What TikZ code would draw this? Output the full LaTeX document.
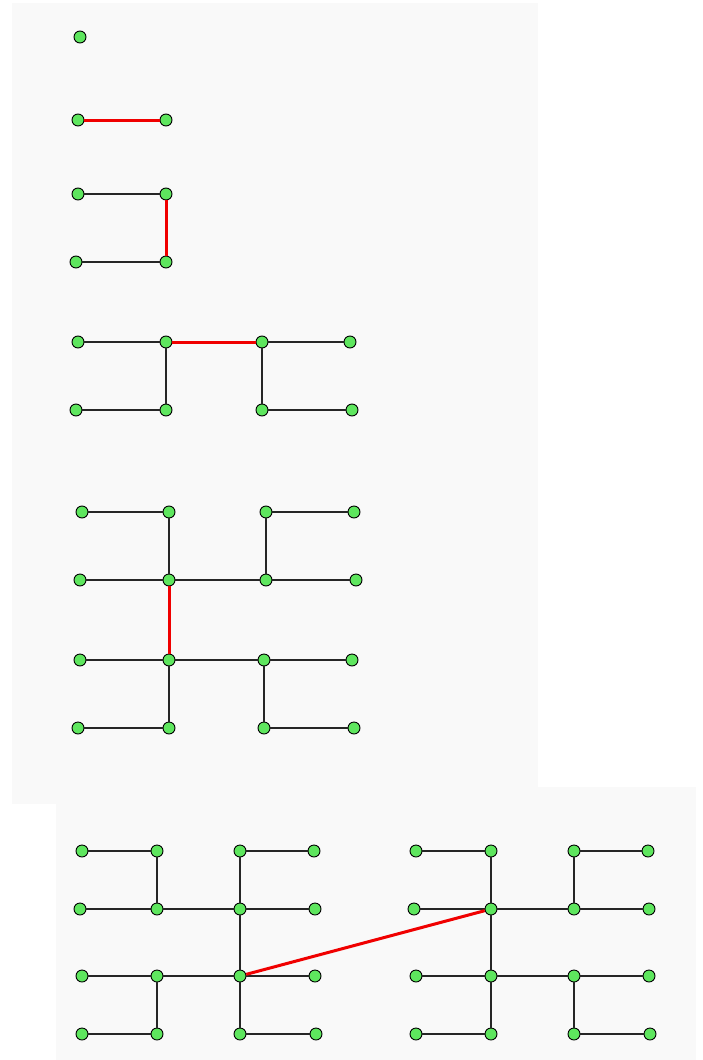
\documentclass[tikz,border=0pt]{standalone}
\usepackage{tikz}
\definecolor{PanelGray}{HTML}{F9F9F9}
\definecolor{VertexGreen}{HTML}{5EE65E}
\definecolor{JoinRed}{HTML}{F00000}
\tikzset{
  vtx/.style={circle,draw=black,line width=0.9pt,fill=VertexGreen,inner sep=0pt,minimum size=12pt},
  edge/.style={line width=1.5pt,black!85},
  redlink/.style={line width=3pt,JoinRed},
  panel/.style={fill=PanelGray}
}

\begin{document}
\begin{tikzpicture}[x=1pt,y=-1pt]
  \useasboundingbox (0,0) rectangle (702,1060);
  \fill[panel] (12,3) rectangle (538,804);
  \fill[panel] (56,787) rectangle (696,1060);
  % order 0
  \node[vtx] (a) at (80,37) {};
  % order 1
  \node[vtx] (b1) at (78,120) {};
  \node[vtx] (b2) at (166,120) {};
  \draw[redlink] (b1)--(b2);
  % order 2
  \foreach \n/\x/\y in {c1/78/194,c2/166/194,c3/76/262,c4/166/262}
    {\node[vtx] (\n) at (\x,\y) {};}
  \draw[edge] (c1)--(c2);
  \draw[edge] (c3)--(c4);
  \draw[redlink] (c2)--(c4);
  % order 3
  \foreach \n/\x/\y in {d1/78/342,d2/166/342,d3/262/342,d4/350/342,
                        d5/76/410,d6/166/410,d7/262/410,d8/352/410}
    {\node[vtx] (\n) at (\x,\y) {};}
  \foreach \p/\q in {d1/d2,d2/d6,d5/d6,d3/d4,d3/d7,d7/d8}
    {\draw[edge] (\p)--(\q);}
  \draw[redlink] (d2)--(d3);
  % order 4
  \foreach \n/\x/\y in {e1/82/512,e2/169/512,e3/266/512,e4/354/512,
                        e5/80/580,e6/169/580,e7/266/580,e8/356/580,
                        e9/80/660,e10/169/660,e11/264/660,e12/352/660,
                        e13/78/728,e14/169/728,e15/264/728,e16/354/728}
    {\node[vtx] (\n) at (\x,\y) {};}
  \foreach \p/\q in {e1/e2,e2/e6,e5/e6,e3/e4,e3/e7,e7/e8,e6/e7,
                     e9/e10,e10/e14,e13/e14,e11/e12,e11/e15,e15/e16,e10/e11}
    {\draw[edge] (\p)--(\q);}
  \draw[redlink] (e6)--(e10);
  % order 5, two halves (trunk on the inner side)
  \foreach \s/\dx/\tu/\tl in {f/0/7/11,g/334/6/10}{
    \foreach \n/\x/\y in {1/82/851,2/157/851,3/240/851,4/314/851,
                          5/80/909,6/157/909,7/240/909,8/315/909,
                          9/82/976,10/157/976,11/240/976,12/315/976,
                          13/82/1034,14/157/1034,15/240/1034,16/316/1034}
      {\node[vtx] (\s\n) at (\x+\dx,\y) {};}
    \foreach \p/\q in {1/2,2/6,5/6,3/4,3/7,7/8,6/7,
                       9/10,10/14,13/14,11/12,11/15,15/16,10/11}
      {\draw[edge] (\s\p)--(\s\q);}
    \draw[edge] (\s\tu)--(\s\tl);
  }
  \draw[redlink] (f11)--(g6);
\end{tikzpicture}
\end{document}
